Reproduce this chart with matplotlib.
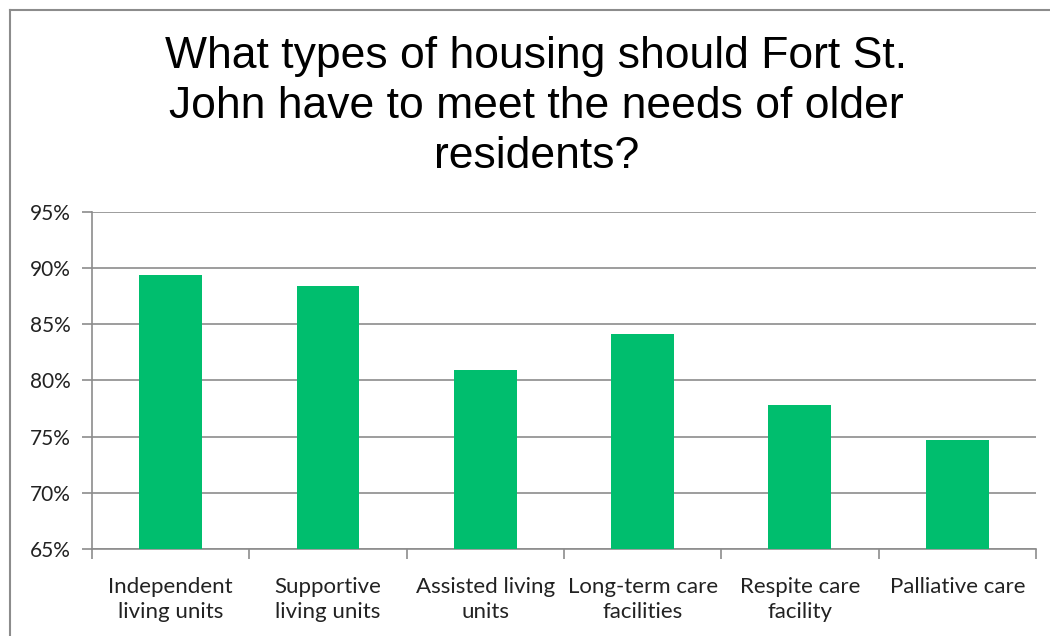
import matplotlib.pyplot as plt
from matplotlib.lines import Line2D
import numpy as np

categories = ["Independent\nliving units", "Supportive\nliving units", "Assisted living\nunits",
              "Long-term care\nfacilities", "Respite care\nfacility", "Palliative care"]
values = [89.4, 88.4, 80.9, 84.1, 77.8, 74.7]
yticks = [65, 70, 75, 80, 85, 90, 95]

fig = plt.figure(figsize=(10.5, 6.36), dpi=100)
ax = fig.add_axes([0.0876, 0.1368, 0.899, 0.530])

x = np.arange(len(categories))
ax.bar(x, values, width=0.4, color="#00BE6E", zorder=3)

ax.set_xlim(-0.5, len(categories) - 0.5)
ax.set_ylim(65, 95)
ax.set_yticks(yticks)
ax.set_yticklabels([f"{v}%" for v in yticks], fontsize=15, family="Lato", color="#222222")
ax.yaxis.grid(True, color="#8c8c8c", linewidth=1.2, zorder=0)

# category boundary ticks on the x axis
ax.set_xticks(np.arange(len(categories) + 1) - 0.5)
ax.set_xticklabels([])
ax.set_xticks(x, minor=True)
ax.set_xticklabels(categories, minor=True, fontsize=16, family="Lato", color="#222222",
                   linespacing=1.3)
ax.tick_params(axis="x", which="minor", length=0, pad=20)
ax.tick_params(axis="x", which="major", length=7, color="#8c8c8c", width=1.2)
ax.tick_params(axis="y", length=7, color="#8c8c8c", width=1.2, pad=8)

for s in ["top", "right"]:
    ax.spines[s].set_visible(False)
for s in ["left", "bottom"]:
    ax.spines[s].set_color("#8c8c8c")
    ax.spines[s].set_linewidth(1.2)

fig.text(0.511, 0.832, "What types of housing should Fort St.\nJohn have to meet the needs of older\nresidents?",
         ha="center", va="center", fontsize=32, family="Liberation Sans", linespacing=1.28)

# outer chart border (left and top)
fig.add_artist(Line2D([0.0095, 0.0095], [0, 0.984], transform=fig.transFigure, color="#8c8c8c", lw=1.5))
fig.add_artist(Line2D([0.0095, 1.0], [0.984, 0.984], transform=fig.transFigure, color="#8c8c8c", lw=1.5))

fig.savefig("out.png", dpi=100)
